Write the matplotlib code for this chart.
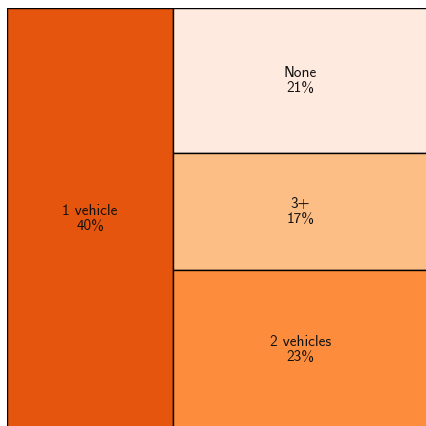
import matplotlib
matplotlib.use("Agg")
from matplotlib import pyplot as plt
from matplotlib.patches import Rectangle

labels = ["1 vehicle", "None", "3+", "2 vehicles"]
shares = [40, 21, 17, 23]
colors = ["#e6550d", "#feeade", "#fdbe85", "#fd8d3c"]

fig = plt.figure(figsize=(4.27, 4.26), dpi=100)
# the treemap runs past the right and bottom edges of the canvas,
# axes is a bit wider so the right border falls off the picture
ax = fig.add_axes([6.8 / 427, -3.0 / 426, 423.0 / 427, 421.5 / 426])
ax.set_xlim(0, 423.0 / 420.5)
ax.set_ylim(1, 0)
ax.axis("off")

total = float(sum(shares))
# largest block takes a full-height column, the rest stack on the right
w0 = shares[0] / total
rects = [(0.0, 0.0, w0, 1.0)]
rest = sum(shares[1:])
y = 0.0
for s in shares[1:]:
    h = s / rest
    rects.append((w0, y, 1.0 - w0, h))
    y += h

for (x, y, w, h), lab, s, c in zip(rects, labels, shares, colors):
    ax.add_patch(Rectangle((x, y), w, h, facecolor=c, edgecolor="black", linewidth=1.0))
    ax.text(x + w / 2, y + h / 2, "%s\n%d%%" % (lab, s), ha="center", va="center",
            fontsize=11, family="cmss10", color="#111111", linespacing=1.1)

fig.savefig("out.png", dpi=100)
